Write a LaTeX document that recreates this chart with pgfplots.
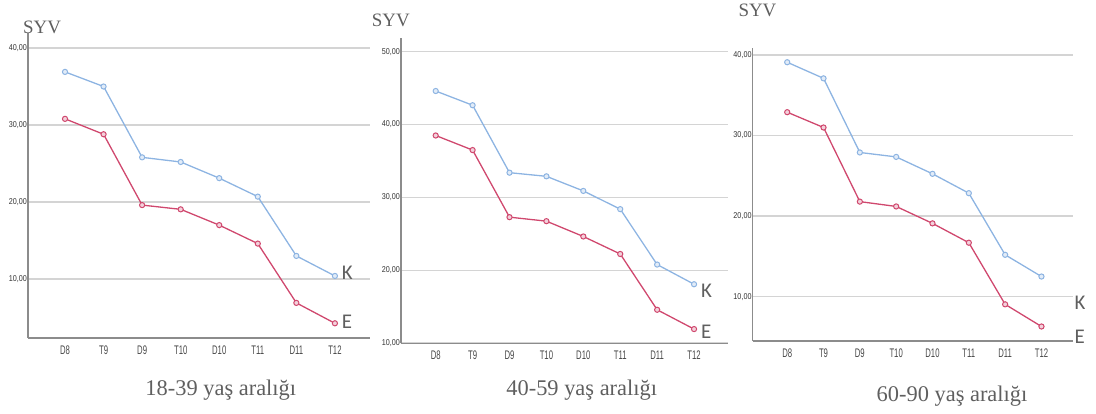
\documentclass[border=0pt]{standalone}
\usepackage{pgfplots}
\pgfplotsset{compat=1.18}
\usepackage{fontspec}
\setmainfont{Liberation Serif}
\newfontfamily\arial{Liberation Sans}
\newfontfamily\carl{Carlito}
\definecolor{kblue}{RGB}{141,180,226}
\definecolor{ered}{RGB}{208,72,110}
\definecolor{txtgray}{RGB}{95,95,95}
\definecolor{axgray}{RGB}{140,140,140}
\definecolor{gridgray}{RGB}{212,212,212}
\newcommand\nx[1]{\scalebox{0.62}[1]{#1}}
\newcommand\PX[2]{(#1bp,{(414-#2)*1bp})}

\pgfplotsset{spss/.style={
  scale only axis, anchor=south west,
  axis x line=bottom, axis y line=left,
  axis line style={draw=axgray, line width=1.2bp, -},
  ymajorgrids, grid style={draw=gridgray, line width=1.6bp},
  major tick length=0pt,
  xtick={1,2,3,4,5,6,7,8},
  xticklabels={\nx{D8},\nx{T9},\nx{D9},\nx{T10},\nx{D10},\nx{T11},\nx{D11},\nx{T12}},
  xticklabel style={font=\arial\fontsize{12.5}{12.5}\selectfont, text=black!72, yshift=-4bp},
  yticklabel={\scalebox{0.85}[1]{\pgfmathprintnumber[fixed,fixed zerofill,precision=2,use comma,assume math mode=true]{\tick}}},
  yticklabel style={font=\arial\fontsize{8.5}{8.5}\selectfont, text=black!80, inner sep=1bp},
  kline/.style={color=kblue, line width=1.3bp, mark=*, mark size=2.6bp, mark options={fill=kblue!25, draw=kblue, line width=1bp}},
  eline/.style={color=ered, line width=1.3bp, mark=*, mark size=2.6bp, mark options={fill=ered!25, draw=ered, line width=1bp}},
}}

\begin{document}
\begin{tikzpicture}
\useasboundingbox (0,0) rectangle (1096bp,414bp);

% Panel 1: 18-39
\begin{axis}[spss, at={(28bp,76bp)}, width=342bp, height=305bp,
  xmin=0.04, xmax=8.91, ymin=2.34, ymax=41.95, ytick={10,20,30,40}]
\addplot[kline] coordinates {(1,36.9) (2,35.0) (3,25.8) (4,25.2) (5,23.1) (6,20.7) (7,13.0) (8,10.4)};
\addplot[eline] coordinates {(1,30.8) (2,28.8) (3,19.6) (4,19.05) (5,17.0) (6,14.6) (7,6.9) (8,4.25)};
\end{axis}

% Panel 2: 40-59
\begin{axis}[spss, at={(401bp,70.7bp)}, width=327bp, height=305bp,
  xmin=0.06, xmax=8.92, ymin=10, ymax=51.83, ytick={10,20,30,40,50}]
\addplot[kline] coordinates {(1,44.6) (2,42.65) (3,33.4) (4,32.9) (5,30.9) (6,28.4) (7,20.8) (8,18.1)};
\addplot[eline] coordinates {(1,38.5) (2,36.5) (3,27.3) (4,26.75) (5,24.65) (6,22.25) (7,14.6) (8,11.95)};
\end{axis}

% Panel 3: 60-90
\begin{axis}[spss, at={(752.7bp,73bp)}, width=320bp, height=292.7bp,
  xmin=0.05, xmax=8.86, ymin=4.5, ymax=40.83, ytick={10,20,30,40}]
\addplot[kline] coordinates {(1,39.1) (2,37.1) (3,27.9) (4,27.35) (5,25.25) (6,22.85) (7,15.2) (8,12.5)};
\addplot[eline] coordinates {(1,32.9) (2,31.0) (3,21.8) (4,21.2) (5,19.1) (6,16.7) (7,9.05) (8,6.3)};
\end{axis}

% SYV labels
\node[anchor=west, inner sep=0, text=txtgray, font=\fontsize{19}{19}\selectfont] at \PX{23}{27} {SYV};
\node[anchor=west, inner sep=0, text=txtgray, font=\fontsize{19}{19}\selectfont] at \PX{371.7}{20} {SYV};
\node[anchor=west, inner sep=0, text=txtgray, font=\fontsize{19}{19}\selectfont] at \PX{738.3}{10} {SYV};

% subtitles
\node[anchor=base, inner sep=0, text=txtgray, font=\fontsize{22.5}{22.5}\selectfont] at \PX{220.8}{395} {18-39 yaş aralığı};
\node[anchor=base, inner sep=0, text=txtgray, font=\fontsize{22.5}{22.5}\selectfont] at \PX{581.7}{395} {40-59 yaş aralığı};
\node[anchor=base, inner sep=0, text=txtgray, font=\fontsize{22.5}{22.5}\selectfont] at \PX{952}{401.7} {60-90 yaş aralığı};

% K / E labels
\node[anchor=west, inner sep=0, text=txtgray, font=\carl\fontsize{21}{21}\selectfont] at \PX{341.7}{272.7} {K};
\node[anchor=west, inner sep=0, text=txtgray, font=\carl\fontsize{21}{21}\selectfont] at \PX{341.7}{322} {E};
\node[anchor=west, inner sep=0, text=txtgray, font=\carl\fontsize{21}{21}\selectfont] at \PX{701}{290.7} {K};
\node[anchor=west, inner sep=0, text=txtgray, font=\carl\fontsize{21}{21}\selectfont] at \PX{701}{331.7} {E};
\node[anchor=west, inner sep=0, text=txtgray, font=\carl\fontsize{21}{21}\selectfont] at \PX{1074.3}{302.7} {K};
\node[anchor=west, inner sep=0, text=txtgray, font=\carl\fontsize{21}{21}\selectfont] at \PX{1074.3}{336.7} {E};
\end{tikzpicture}
\end{document}
